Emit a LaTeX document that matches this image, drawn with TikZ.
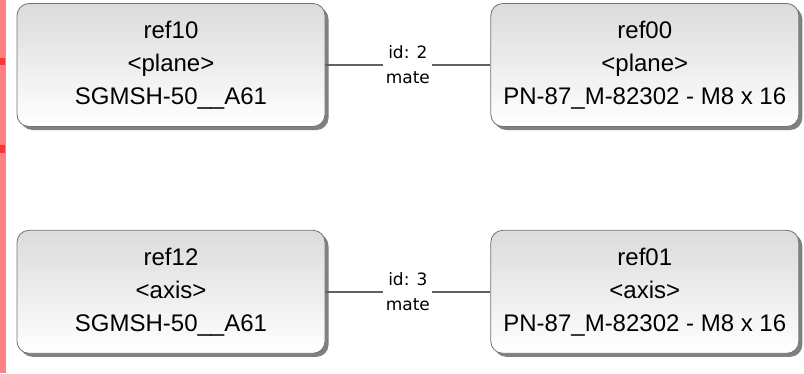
\documentclass[tikz,border=0pt]{standalone}
\usepackage{fontspec}
\setmainfont{Liberation Sans}
\newfontfamily\linkfont{DejaVu Sans}
\usetikzlibrary{positioning,shadows}
\definecolor{stripred}{HTML}{FF8080}
\definecolor{stripdark}{HTML}{FF3333}
\begin{document}
\begin{tikzpicture}[x=1pt, y=-1pt, every node/.style = {align=center}, line width=2.5pt]
	\tikzstyle{part} = [shape=rectangle, rounded corners=12pt, draw=black!55, line width=0.8pt, top color=black!14, bottom color=white, minimum width=308pt, minimum height=123pt, font=\fontsize{24pt}{33pt}\selectfont, general shadow={fill=black!50, shadow xshift=3.5pt, shadow yshift=-3.5pt}]
	\tikzstyle{link} = [fill=white, inner sep=2.5pt, font=\linkfont\fontsize{17pt}{25pt}\selectfont]
	\tikzstyle{wire} = [draw=black!62, line width=2.5pt]
	\useasboundingbox (0,0) rectangle (804,373);
	\fill[stripred] (0,0) rectangle (6,373);
	\fill[stripdark] (0,58) rectangle (5,65);
	\fill[stripdark] (0,145) rectangle (5,153);
	\node[part] (ref10) at (171,65) {ref10\\<plane>\\SGMSH-50\_\_A61};
	\node[part, right=165pt of ref10] (ref00) {ref00\\<plane>\\PN-87\_M-82302 - M8 x 16};
	\node[part, below=103pt of ref10] (ref12) {ref12\\<axis>\\SGMSH-50\_\_A61};
	\node[part, right=165pt of ref12] (ref01) {ref01\\<axis>\\PN-87\_M-82302 - M8 x 16};
	\draw[wire] (ref10) -- node[link] {id: 2\\mate} (ref00);
	\draw[wire] (ref12) -- node[link] {id: 3\\mate} (ref01);
\end{tikzpicture}
\end{document}
